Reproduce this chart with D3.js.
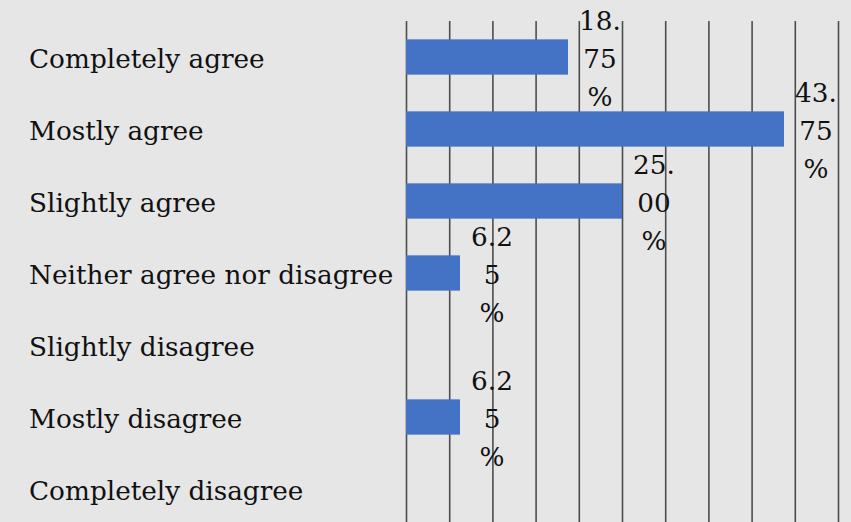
<!DOCTYPE html>
<html>
<head>
<meta charset="utf-8">
<script src="https://cdn.jsdelivr.net/npm/d3@7"></script>
<style>
  html, body { margin: 0; padding: 0; background: #e6e6e6; }
  svg { display: block; }
</style>
</head>
<body>
<svg id="chart" width="851" height="522"></svg>
<script>
const categories = [
  "Completely agree",
  "Mostly agree",
  "Slightly agree",
  "Neither agree nor disagree",
  "Slightly disagree",
  "Mostly disagree",
  "Completely disagree"
];
const values = [0.1875, 0.4375, 0.25, 0.0625, null, 0.0625, null];
const xTicks = [0, 0.05, 0.10, 0.15, 0.20, 0.25, 0.30, 0.35, 0.40, 0.45, 0.50];

const W = 851, H = 522;
const svg = d3.select("#chart");
svg.append("rect").attr("width", W).attr("height", H).attr("fill", "#e6e6e6");

const x = d3.scaleLinear().domain([0, 0.5]).range([406, 838]);
const y = d3.scaleBand().domain(categories).range([21, 525])
  .paddingInner(0.51).paddingOuter(0.255);

const font = "'DejaVu Serif', 'Liberation Serif', serif";
const fs = 26.3;

// gridlines
const grid = d3.axisBottom(x).tickValues(xTicks).tickSize(504).tickFormat("");
const g = svg.append("g").attr("transform", "translate(0,21)").call(grid);
g.select(".domain").remove();
g.selectAll(".tick line").attr("stroke", "#4d4d4d").attr("stroke-width", 1.6);

// bars
const data = categories.map((c, i) => ({ c, v: values[i] }));
svg.append("g").selectAll("rect")
  .data(data.filter(d => d.v != null))
  .join("rect")
  .attr("x", x(0))
  .attr("y", d => y(d.c))
  .attr("width", d => x(d.v) - x(0))
  .attr("height", y.bandwidth())
  .attr("fill", "#4472c4");

// category labels
svg.append("g").selectAll("text")
  .data(categories)
  .join("text")
  .attr("x", 29)
  .attr("y", d => y(d) + y.bandwidth() / 2 + 11)
  .attr("font-family", font)
  .attr("font-size", fs)
  .attr("fill", "#111111")
  .text(d => d);

// data labels (wrapped into three lines)
function wrapLines(v) {
  const s = (v * 100).toFixed(2) + "%";
  return [s.slice(0, 3), s.slice(3, -1), "%"];
}
const lab = svg.append("g").selectAll("text")
  .data(data.filter(d => d.v != null))
  .join("text")
  .attr("font-family", font)
  .attr("font-size", fs)
  .attr("fill", "#111111")
  .attr("text-anchor", "middle");
lab.each(function(d) {
  const t = d3.select(this);
  const cx = x(d.v) + 32;
  const cy = y(d.c) + y.bandwidth() / 2 + 11;
  wrapLines(d.v).forEach((line, i) => {
    t.append("tspan").attr("x", cx).attr("y", cy + (i - 1) * 38).text(line);
  });
});
</script>
</body>
</html>
